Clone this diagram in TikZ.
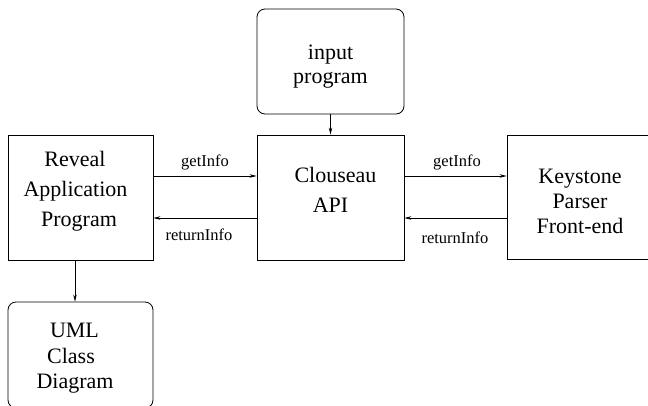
\documentclass[tikz,border=0pt]{standalone}
\usepackage{fontspec}
\setmainfont{Liberation Serif}
\usetikzlibrary{arrows.meta}
\newcommand\myTop{\rule{0pt}{30pt}}
\newcommand\myBot[1]{\rule[-#1]{0pt}{#1}}
\newcommand\myGap[1]{\rule{#1}{0pt}}
\begin{document}
\begin{tikzpicture}[x=1pt,y=-1pt,
 box/.style={draw, line width=0.8pt, inner sep=0pt, align=center, font=\fontsize{22}{25}\selectfont},
 rbox/.style={box, rounded corners=8pt},
 lbl/.style={font=\fontsize{16.5}{18}\selectfont, inner sep=0pt},
 arr/.style={-{Stealth[length=7pt,width=3.5pt]}, line width=0.7pt}]
\useasboundingbox (0,0) rectangle (648,405);
\node[rbox, minimum width=147pt, minimum height=105pt, font=\fontsize{22}{24}\selectfont] (input) at (330.5,61.5)
  {\myTop input\\\myBot{10.4pt}program};
\node[box, minimum width=147pt, minimum height=125pt, font=\fontsize{22}{30}\selectfont] (clouseau) at (330.5,197.5)
  {\myTop\myGap{10pt}Clouseau\\\myBot{29.6pt}API};
\node[box, minimum width=145pt, minimum height=125pt, font=\fontsize{22}{30}\selectfont] (reveal) at (80.5,197.5)
  {\myTop Reveal\myGap{11pt}\\Application\myGap{10pt}\\\myBot{31.6pt}Program\myGap{3pt}};
\node[box, minimum width=146pt, minimum height=124pt, font=\fontsize{22}{25}\selectfont] (keystone) at (580,197)
  {\myTop Keystone\\Parser\\\myBot{7.4pt}Front-end};
\node[rbox, minimum width=145pt, minimum height=106pt, font=\fontsize{22}{25.5}\selectfont] (uml) at (80.5,355)
  {\myTop UML\myGap{12pt}\\Class\myGap{19pt}\\\myBot{13.6pt}Diagram\myGap{11pt}};
\draw[arr] (input.south) -- (clouseau.north);
\draw[arr] (reveal.east |- 0,176) -- (clouseau.west |- 0,176);
\draw[arr] (clouseau.west |- 0,218) -- (reveal.east |- 0,218);
\draw[arr] (clouseau.east |- 0,176) -- (keystone.west |- 0,176);
\draw[arr] (keystone.west |- 0,218) -- (clouseau.east |- 0,218);
\draw[arr] (reveal.south -| 75,0) -- (uml.north -| 75,0);
\node[lbl] (g1) at (205,162) {getInfo};
\node[lbl] (r1) at (199,235) {returnInfo};
\node[lbl] (g2) at (457,162) {getInfo};
\node[lbl] (r2) at (455,238) {returnInfo};
\end{tikzpicture}
\end{document}
